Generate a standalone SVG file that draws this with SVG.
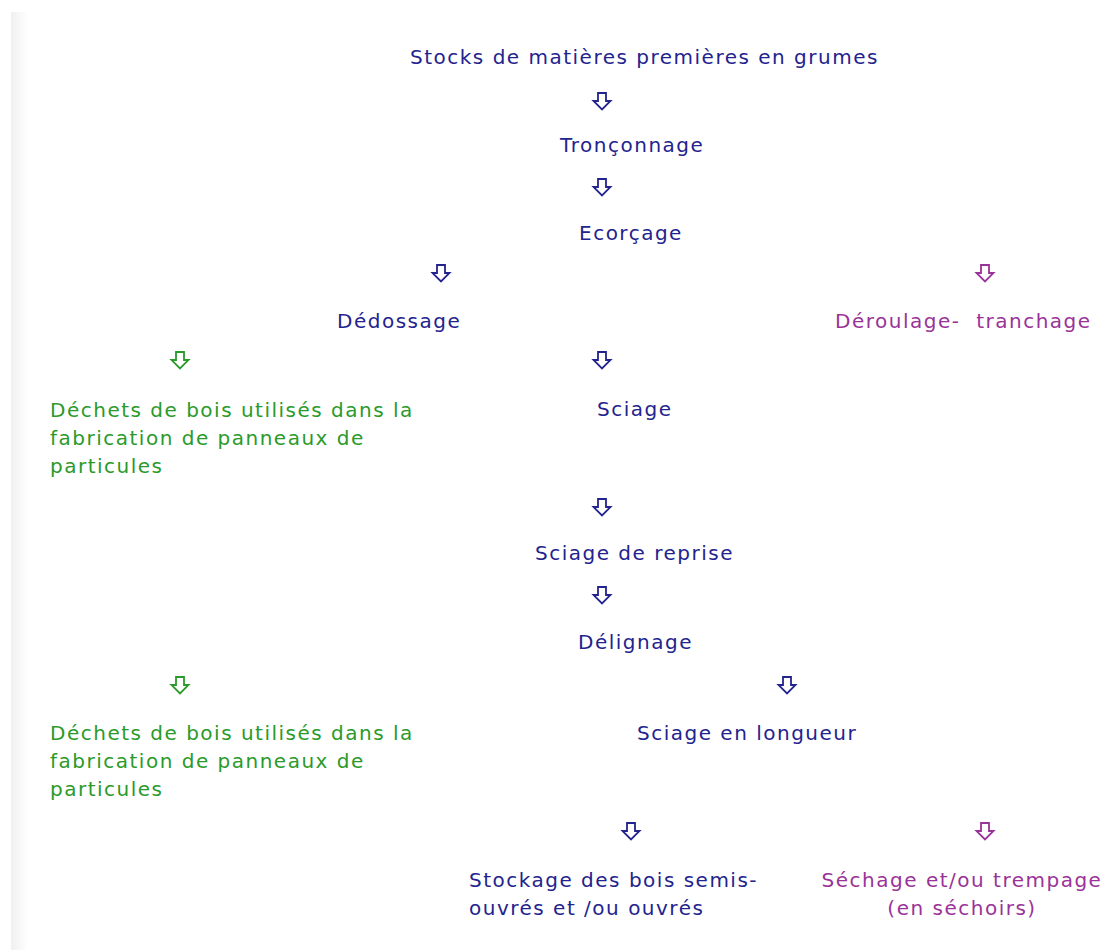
<svg xmlns="http://www.w3.org/2000/svg" xmlns:xlink="http://www.w3.org/1999/xlink" width="1110" height="950" viewBox="0 0 1110 950">
<style>
text{font-family:"DejaVu Sans","Verdana",sans-serif;font-size:20px;letter-spacing:1.5px}
.b{fill:#23238e}
.g{fill:#2a9a2a}
.p{fill:#993399}
.ab{stroke:#23238e}
.ag{stroke:#2a9a2a}
.ap{stroke:#993399}
</style>
<defs>
<linearGradient id="strip" x1="0" y1="0" x2="1" y2="0">
<stop offset="0" stop-color="#f0f0f0"/>
<stop offset="1" stop-color="#ffffff"/>
</linearGradient>
<path id="arr" d="M-4,-8 H4 V0 H8.5 L0,8.5 L-8.5,0 H-4 Z" fill="#ffffff" stroke-width="1.8" stroke-linejoin="miter"/>
</defs>
<rect width="1110" height="950" fill="#ffffff"/>
<rect x="11" y="12" width="17" height="938" fill="url(#strip)"/>
<g id="connectors">
<use xlink:href="#arr" class="ab" x="602" y="101"/>
<use xlink:href="#arr" class="ab" x="602" y="187"/>
<use xlink:href="#arr" class="ab" x="441" y="273"/>
<use xlink:href="#arr" class="ap" x="985" y="273"/>
<use xlink:href="#arr" class="ag" x="180" y="360"/>
<use xlink:href="#arr" class="ab" x="602" y="360"/>
<use xlink:href="#arr" class="ab" x="602" y="507"/>
<use xlink:href="#arr" class="ab" x="602" y="595"/>
<use xlink:href="#arr" class="ag" x="180" y="685"/>
<use xlink:href="#arr" class="ab" x="787" y="685"/>
<use xlink:href="#arr" class="ab" x="631" y="831"/>
<use xlink:href="#arr" class="ap" x="985" y="831"/>
</g>
<g id="n-stocks"><text class="b" x="410" y="64">Stocks de matières premières en grumes</text></g>
<g id="n-tronconnage"><text class="b" x="560" y="152">Tronçonnage</text></g>
<g id="n-ecorcage"><text class="b" x="579" y="240">Ecorçage</text></g>
<g id="n-dedossage"><text class="b" x="337" y="328">Dédossage</text></g>
<g id="n-deroulage"><text class="p" x="835" y="328">Déroulage-&#160; tranchage</text></g>
<g id="n-dechets1"><text class="g" x="50" y="417"><tspan x="50" y="417">Déchets de bois utilisés dans la</tspan><tspan x="50" y="445">fabrication de panneaux de</tspan><tspan x="50" y="473">particules</tspan></text></g>
<g id="n-sciage"><text class="b" x="597" y="416">Sciage</text></g>
<g id="n-reprise"><text class="b" x="535" y="560">Sciage de reprise</text></g>
<g id="n-delignage"><text class="b" x="578" y="649">Délignage</text></g>
<g id="n-dechets2"><text class="g" x="50" y="740"><tspan x="50" y="740">Déchets de bois utilisés dans la</tspan><tspan x="50" y="768">fabrication de panneaux de</tspan><tspan x="50" y="796">particules</tspan></text></g>
<g id="n-longueur"><text class="b" x="637" y="740">Sciage en longueur</text></g>
<g id="n-stockage"><text class="b" x="469" y="887"><tspan x="469" y="887">Stockage des bois semis-</tspan><tspan x="469" y="915">ouvrés et /ou ouvrés</tspan></text></g>
<g id="n-sechage"><text class="p" text-anchor="middle" x="962" y="887"><tspan x="962" y="887">Séchage et/ou trempage</tspan><tspan x="962" y="915">(en séchoirs)</tspan></text></g>
</svg>
